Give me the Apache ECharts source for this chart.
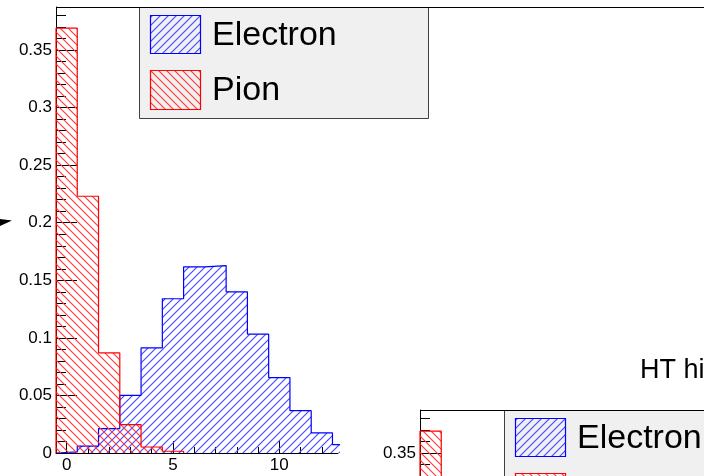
<!DOCTYPE html>
<html><head><meta charset="utf-8">
<script src="https://cdn.jsdelivr.net/npm/echarts@6/dist/echarts.min.js"></script>
<style>html,body{margin:0;padding:0;background:#fff}#c{width:704px;height:476px}</style>
</head><body><div id="c"></div>
<script>
// ---- data ----
const binCenters = [0,1,2,3,4,5,6,7,8,9,10,11,12,13];
const electron = [0.001,0.006,0.0212,0.0501,0.0913,0.134,0.1617,0.1628,0.140,0.1032,0.0655,0.0368,0.0174,0.0073];
const pion = [0.369,0.223,0.0869,0.0247,0.0052,0.0015];
const seriesNames = ['Electron','Pion'];
const xTickLabels = [0,5,10];
const yTickLabels = [0,0.05,0.1,0.15,0.2,0.25,0.3,0.35];
const titleText = 'HT hi';

const FONT = '"Liberation Sans", Arial, Helvetica, sans-serif';

function hatch(color, dir, lw) {
  const s = 8; const c = document.createElement('canvas'); c.width = s; c.height = s;
  const g = c.getContext('2d'); g.strokeStyle = color; g.lineWidth = lw;
  g.beginPath();
  if (dir > 0) {
    g.moveTo(-2, s+2); g.lineTo(s+2, -2);
    g.moveTo(-2, 2); g.lineTo(2, -2);
    g.moveTo(s-2, s+2); g.lineTo(s+2, s-2);
  } else {
    g.moveTo(-2, -2); g.lineTo(s+2, s+2);
    g.moveTo(s-2, -2); g.lineTo(s+2, 2);
    g.moveTo(-2, s-2); g.lineTo(2, s+2);
  }
  g.stroke();
  return {image: c, repeat: 'repeat'};
}
const blueHatch = hatch('#4a4aff', 1, 1.2);
const redHatch = hatch('#ff3a3a', -1, 1.15);
const colors = ['#0000ff', '#ff0000'];
const hatches = [blueHatch, redHatch];

function stepData(vals) {
  const d = [[binCenters[0] - 0.5, 0]];
  vals.forEach((v, i) => d.push([binCenters[i] - 0.5, v]));
  d.push([binCenters[vals.length - 1] + 0.5, 0]);
  return d;
}

function xAxisCfg(gi) {
  return {
    type: 'value', gridIndex: gi, min: -0.5, max: 12.76, minInterval: 5, maxInterval: 5, splitNumber: 3,
    axisLine: {show: true, onZero: false, lineStyle: {color: '#000', width: 1}},
    axisTick: {show: true, inside: true, length: 12, lineStyle: {color: '#000'}, customValues: xTickLabels},
    minorTick: {show: true, splitNumber: 5, length: 6, lineStyle: {color: '#000'}},
    axisLabel: {color: '#000', fontSize: 17, fontFamily: FONT, margin: 4, customValues: xTickLabels},
    splitLine: {show: false}
  };
}
function yAxisCfg(gi) {
  return {
    type: 'value', gridIndex: gi, min: 0, max: 0.3874, interval: 0.05,
    axisLine: {show: true, onZero: false, lineStyle: {color: '#000', width: 1}},
    axisTick: {show: true, inside: true, length: 21, lineStyle: {color: '#000'}, customValues: yTickLabels},
    minorTick: {show: true, splitNumber: 5, length: 10, lineStyle: {color: '#000'}},
    axisLabel: {color: '#000', fontSize: 17, fontFamily: FONT, margin: 4, customValues: yTickLabels,
      formatter: v => String(+v.toFixed(2))},
    splitLine: {show: false}
  };
}

const grids = [
  {left: 56, top: 7, width: 282, height: 446, outerBoundsMode: 'none', containLabel: false},
  {left: 420, top: 410, width: 282, height: 446, outerBoundsMode: 'none', containLabel: false}
];

const series = [];
[0, 1].forEach(gi => {
  [electron, pion].forEach((vals, k) => {
    series.push({
      type: 'line', name: seriesNames[k], xAxisIndex: gi, yAxisIndex: gi,
      data: stepData(vals), step: 'end', symbol: 'none', clip: true,
      lineStyle: {color: colors[k], width: 1.2},
      itemStyle: {color: colors[k]},
      areaStyle: {color: hatches[k], opacity: 1},
      z: 3 + k
    });
  });
});

function legendGroup(ox, oy) {
  const ch = [
    {type: 'rect', shape: {x: ox + 139.5, y: oy + 7.5, width: 289, height: 111},
      style: {fill: '#f0f0f0', stroke: '#404040', lineWidth: 1}}
  ];
  const rows = [{y: 15.5, h: 38}, {y: 70.5, h: 39}];
  seriesNames.forEach((nm, k) => {
    ch.push({type: 'rect', shape: {x: ox + 150.5, y: oy + rows[k].y, width: 50, height: rows[k].h},
      style: {fill: hatches[k], stroke: colors[k], lineWidth: 1.2}});
    ch.push({type: 'text', x: ox + 212, y: oy + rows[k].y + rows[k].h / 2 + 1,
      style: {text: nm, fontSize: 34, fontFamily: FONT, fill: '#000', verticalAlign: 'middle', align: 'left'}});
  });
  return {type: 'group', z: 100, children: ch};
}

const chart = echarts.init(document.getElementById('c'), null, {renderer: 'canvas'});
chart.setOption({
  animation: false,
  backgroundColor: '#fff',
  grid: grids,
  xAxis: [xAxisCfg(0), xAxisCfg(1)],
  yAxis: [yAxisCfg(0), yAxisCfg(1)],
  series: series,
  graphic: [
    {type: 'line', z: 50, shape: {x1: 56, y1: 7.5, x2: 704, y2: 7.5}, style: {stroke: '#000', lineWidth: 1}},
    {type: 'line', z: 50, shape: {x1: 420, y1: 410.5, x2: 704, y2: 410.5}, style: {stroke: '#000', lineWidth: 1}},
    legendGroup(0, 0),
    legendGroup(365, 403),
    {type: 'text', z: 100, x: 640, y: 371, style: {text: titleText, fontSize: 27, fontFamily: FONT, fill: '#000', verticalAlign: 'middle'}},
    {type: 'polygon', z: 100, shape: {points: [[0, 219], [12, 220.5], [0, 226]]}, style: {fill: '#000'}}
  ]
});
</script></body></html>
